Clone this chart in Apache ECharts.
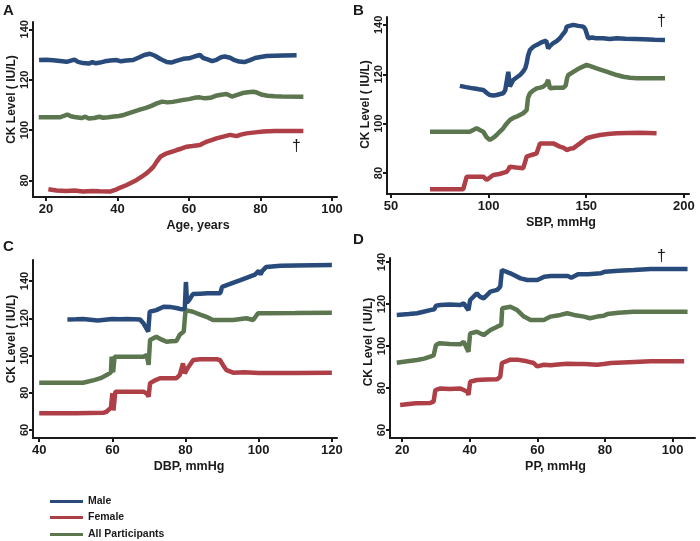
<!DOCTYPE html>
<html>
<head>
<meta charset="utf-8">
<script src="https://cdn.jsdelivr.net/npm/echarts@6/dist/echarts.min.js"></script>
<style>
  html, body { margin: 0; padding: 0; background: #fff; }
  #main { width: 700px; height: 541px; }
</style>
</head>
<body>
<div id="main"></div>
<script>
// series names, in legend order
const seriesNames = ['Male', 'Female', 'All Participants'];

// panel A: CK level by age
const ageMale = [[18.1,127.8],[20,127.9],[22,127.7],[24,127.4],[25.8,127.1],[27,127.6],[28,128.0],[29,127.1],[30.4,126.6],[32,126.4],[33,127],[34,126.5],[35.1,126.8],[36.5,127.3],[38,127.6],[39.8,127.8],[41,127.3],[42.5,127.6],[44.4,127.8],[46,128.8],[47.5,129.8],[49.1,130.3],[50.5,129.5],[52,128.2],[53.8,127.0],[55,126.8],[56.5,127.5],[58.4,128.3],[60,128.5],[61.5,129.2],[63.1,129.8],[64,128.6],[65,128.2],[66.5,127.4],[67.7,127.9],[69,128.9],[70,129.2],[71.5,128.7],[72.4,128.0],[74,127.2],[75.5,127.0],[77.1,127.8],[78.5,128.6],[80,129.0],[81.7,129.4],[84,129.5],[86.4,129.6],[90.1,129.7]];
const ageFemale = [[20.7,76.5],[23,76.0],[25.8,75.8],[28,76.0],[30.4,75.6],[33,75.8],[35,75.7],[37.9,75.6],[39.8,76.5],[41,77.3],[42.6,78.2],[44,79.2],[45.4,80.2],[46.8,81.5],[48.2,82.9],[49.2,84.2],[50.1,85.5],[51,87.5],[52,89.4],[53,90.2],[53.8,90.8],[55.2,91.4],[56.6,92.1],[58,92.7],[59.4,93.4],[61,93.7],[63.1,94.1],[64,94.8],[65,95.4],[66.3,96.0],[67.7,96.7],[69.6,97.4],[71.5,98.1],[73.3,97.6],[74.5,98.2],[76.1,98.7],[78.5,99.1],[80.8,99.4],[84,99.6],[92,99.6]];
const ageAll = [[18,105.1],[22,105.1],[24,105.1],[25,105.6],[26,106.2],[27,105.5],[28,105.2],[30,104.8],[31,105.3],[32,104.6],[33.5,104.8],[35,105.3],[36,104.9],[37.5,105.1],[39,105.4],[40.5,105.6],[42,106.1],[43.5,106.8],[45,107.5],[46.5,108.2],[48,108.8],[49.5,109.6],[51,110.6],[52.5,111.3],[54,111.0],[55.5,111.2],[57,111.6],[58.5,112.0],[60,112.3],[61.5,112.8],[63,113.0],[64.5,112.6],[66,112.8],[67.5,113.6],[69,114.0],[70.5,114.3],[72,113.3],[73.5,114.0],[75,114.7],[76.5,115.0],[78,115.2],[79,114.9],[80.5,114.0],[82,113.6],[84,113.4],[86,113.3],[92,113.2]];

// panel B: CK level by systolic blood pressure
const sbpMale = [[85.3,115.3],[88.5,114.8],[92,114.3],[95,113.9],[97.3,113.6],[99,112.5],[100.7,111.6],[102.5,111.4],[104.1,111.6],[106,112.0],[107.5,112.3],[108.5,113.5],[109.2,114.3],[110.1,121.0],[110.9,115.0],[112.6,117.7],[114.5,118.8],[116.1,119.7],[117.7,121.1],[118.8,122.5],[119.5,124.5],[120.2,127.5],[121.2,129.9],[123,131.2],[124.6,131.9],[126.5,132.7],[128,133.2],[129.5,133.6],[130.5,130.5],[131.5,131.5],[133.1,132.6],[135,133.5],[136.5,134.6],[138,136.2],[139.3,137.5],[140,139.3],[143.3,140.0],[146,139.6],[148.5,139.3],[149.5,138.3],[150.2,137.5],[151,134.6],[153,134.9],[155,134.6],[158.7,134.6],[162,134.3],[165.6,134.6],[170,134.4],[175,134.3],[179.2,134.2],[185,134.0],[190.3,133.9]];
const sbpFemale = [[70,73.4],[80,73.4],[87,73.4],[88.8,78.5],[93,78.5],[97.3,78.5],[99,77.2],[100.7,78.2],[102.4,79.2],[105.5,79.6],[109.2,80.5],[110.2,81.5],[110.9,82.6],[114,82.2],[117.7,81.9],[119.5,86.6],[122,87.3],[124.6,88.0],[126.3,92.0],[130,92.0],[133.1,92.0],[136.5,90.7],[138.5,90.2],[140,89.3],[141.5,89.8],[143.3,90.0],[145,91.0],[146.8,92.0],[148.5,93.0],[150.2,94.1],[153.5,94.8],[157,95.4],[161,95.8],[165.6,96.1],[171,96.2],[177.5,96.3],[186,96.1]];
const sbpAll = [[70,96.7],[80,96.7],[90.4,96.7],[93.9,98.1],[96,97.2],[97.3,96.7],[99,94.5],[100.7,93.4],[102.5,94.3],[104.1,95.4],[105.8,96.8],[107.5,98.1],[109,99.8],[110.9,101.5],[112.6,102.3],[114.3,102.8],[116,103.5],[117.7,104.2],[119.5,105.5],[120.2,110.5],[121.2,112.3],[123,113.5],[124.6,114.3],[126.5,114.6],[128,115.0],[129.5,116.0],[130.5,117.7],[131.4,114.3],[134,114.5],[136.5,114.5],[138.2,114.5],[139.5,115.5],[140.2,118.5],[140.8,119.7],[143,120.8],[145.1,121.8],[147.5,122.8],[150.2,123.8],[152.5,123.2],[155.3,122.4],[158,121.7],[160.4,121.1],[163,120.4],[165.6,119.7],[169,119.0],[172.4,118.6],[176,118.4],[179.2,118.4],[185,118.4],[190.3,118.4]];

// panel C: CK level by diastolic blood pressure
const dbpMale = [[47.7,119.4],[50,119.5],[52,119.6],[54,119.2],[56,118.8],[58,119.2],[60,119.6],[62,119.5],[64,119.6],[66,119.5],[67.5,119.4],[68.5,117.3],[69.8,112.8],[70.2,123.5],[72,124.4],[74,126.2],[76,126.0],[77.5,125.5],[79,124.8],[79.8,125.3],[80.1,139.5],[80.4,128.5],[81,129.8],[82,133.0],[84,133.2],[86,133.4],[88,133.5],[89.5,133.5],[90,136.9],[92,138.3],[95,140.5],[97,142.0],[99,143.5],[100,145.5],[100.5,143.5],[101,145.5],[102,147.5],[106,148.2],[110,148.4],[115,148.5],[120,148.6]];
const dbpFemale = [[40,69.0],[50,69.0],[57.5,69.2],[58.4,69.8],[59.6,72.0],[60.0,79.7],[60.3,70.5],[60.8,80.6],[64,80.6],[68.5,80.6],[69.4,79.5],[69.9,77.9],[70.3,85.1],[71.5,86.5],[73,87.8],[77.5,87.8],[78.4,89.5],[79.3,95.8],[79.8,90.4],[80.5,93.0],[82.1,97.6],[84,98.0],[86,98.0],[88.5,98.0],[89.4,97.6],[90.5,94.0],[91.2,92.2],[93,90.8],[96,91.0],[100,90.6],[110,90.6],[120,90.8]];
const dbpAll = [[40,85.4],[46,85.4],[52,85.4],[55,86.8],[57,88.0],[58.4,89.5],[59.6,91],[59.8,99.4],[60.2,91.0],[60.6,99.4],[64,99.4],[68.5,99.4],[69.4,100.3],[69.9,95.0],[70.3,108.3],[72,110.1],[73.5,108.5],[74.8,107.4],[76,107.6],[77.5,107.8],[78.4,111.1],[79.5,112.9],[80,124.4],[82,123.5],[84,122.0],[85.7,120.8],[87.5,119.1],[90,119.1],[93,119.1],[96.6,120.0],[98.5,119.1],[99.8,122.7],[102,122.7],[110,122.8],[120,123.0]];

// panel D: CK level by pulse pressure
const ppMale = [[18.4,114.8],[22,115.2],[24.4,115.6],[26.3,116.3],[28.3,117.1],[29.5,117.5],[30,119.2],[31.3,119.5],[34,119.8],[37.2,119.5],[38.2,120.3],[39.6,117.1],[40.1,121.9],[42.1,125.1],[43,123.5],[44.1,122.7],[46.1,125.9],[48.1,126.7],[49,128.2],[49.5,136.2],[52,134.6],[55,132.2],[57,131.4],[60,131.4],[62,133.0],[64,133.3],[69,133.3],[70,132.5],[72,134.2],[75,134.2],[78.7,134.6],[80,135.4],[84,135.8],[88.5,136.2],[93.5,136.7],[104.4,136.7]];
const ppFemale = [[19.4,71.9],[24,72.7],[28.3,72.9],[29.3,73.5],[29.8,79.0],[31.3,79.8],[34,79.5],[37.2,79.8],[39.2,78.3],[39.6,76.7],[40.1,83.0],[42.1,83.8],[45,84.0],[48.1,84.2],[49,85.4],[49.5,91.9],[52,93.5],[54,93.5],[56.9,92.7],[58.9,91.9],[59.9,90.3],[61.9,91.1],[63.9,90.8],[66,91.2],[68.8,91.6],[71.8,91.4],[73.8,91.4],[77.7,91.1],[79.6,91.4],[81.7,91.9],[87,92.3],[93.5,92.7],[103.4,92.7]];
const ppAll = [[18.4,92.0],[21,92.6],[24.4,93.3],[26.5,94.0],[28.3,94.9],[29.3,95.5],[30,100.5],[31,101.3],[34,101.0],[37.2,100.8],[38.2,102.0],[39.6,97.3],[40.1,106.0],[42.1,106.8],[44.1,105.2],[46.1,107.6],[48.1,109.2],[49.3,110.0],[49.6,118.0],[52,118.7],[54,117.1],[56,114.0],[58,112.4],[61.9,112.4],[63.9,114.0],[66.8,114.8],[68.8,115.6],[70.8,114.8],[73.8,114.0],[75.5,113.2],[77.7,114.0],[79.6,114.4],[80.7,115.2],[84,115.8],[88.5,116.3],[95,116.3],[104.4,116.3]];

// tick labels
const ageTicks = [20, 40, 60, 80, 100];
const sbpTicks = [50, 100, 150, 200];
const dbpTicks = [40, 60, 80, 100, 120];
const ppTicks = [20, 40, 60, 80, 100];
const ckTicksAB = [80, 100, 120, 140];
const ckTicksCD = [60, 80, 100, 120, 140];

const BLUE = '#294b7b';
const RED = '#ae3f47';
const GREEN = '#5c7650';
const INK = '#1a1a1a';

let makeX = (idx, min, max, ticks, name, shift) => ({
  type: 'value', gridIndex: idx, min: min, max: max,
  name: name, nameLocation: 'middle', nameGap: 22,
  nameTextStyle: {
    fontSize: 12.5, fontWeight: 'bold', color: INK, fontFamily: 'Liberation Sans',
    padding: shift >= 0 ? [0, 0, 0, shift * 2] : [0, -shift * 2, 0, 0]
  },
  splitLine: { show: false },
  axisLine: { onZero: false, lineStyle: { color: INK, width: 2 } },
  axisTick: { customValues: ticks, length: 4, lineStyle: { color: INK, width: 2 } },
  axisLabel: { customValues: ticks, fontSize: 13, fontWeight: 'bold', color: INK, fontFamily: 'Liberation Sans', margin: 6 }
});

let makeY = (idx, min, max, ticks, shift) => ({
  type: 'value', gridIndex: idx, min: min, max: max,
  name: 'CK Level ( IU/L)', nameLocation: 'middle', nameGap: 14,
  nameTextStyle: {
    fontSize: 12, fontWeight: 'bold', color: INK, fontFamily: 'Liberation Sans',
    padding: shift >= 0 ? [0, 0, 0, shift * 2] : [0, -shift * 2, 0, 0]
  },
  splitLine: { show: false },
  axisLine: { onZero: false, lineStyle: { color: INK, width: 2 } },
  axisTick: { customValues: ticks, length: 4, lineStyle: { color: INK, width: 2 } },
  axisLabel: { customValues: ticks, rotate: 90, fontSize: 11, fontWeight: 'bold', color: INK, fontFamily: 'Liberation Sans', margin: 3 }
});

let makeLine = (idx, name, color, data) => ({
  type: 'line', name: name, xAxisIndex: idx, yAxisIndex: idx,
  data: data, showSymbol: false, symbol: 'none',
  itemStyle: { color: color },
  lineStyle: { color: color, width: 4.5, join: 'bevel' },
  z: 3
});

// one legend per entry so they stack like the original key
let makeLegend = (name, top) => ({
  data: [name], orient: 'vertical', left: 45, top: top,
  itemWidth: 33, itemHeight: 3, icon: 'rect',
  textStyle: { fontSize: 10.5, fontWeight: 'bold', color: INK, fontFamily: 'Liberation Sans' }
});

let panelText = (txt, x, y, size, weight) => ({
  type: 'text', left: x, top: y,
  style: { text: txt, fontSize: size, fontWeight: weight, fill: INK, fontFamily: 'Liberation Sans' }
});

const chart = echarts.init(document.getElementById('main'));

const options = {
  animation: false,
  backgroundColor: '#fff',
  textStyle: { fontFamily: 'Liberation Sans' },
  grid: [
    { left: 33, top: 22, width: 304, height: 175 },
    { left: 387, top: 17, width: 302, height: 177 },
    { left: 33, top: 260, width: 304, height: 178 },
    { left: 390, top: 258, width: 305, height: 180 }
  ],
  xAxis: [
    makeX(0, 16.4, 101.4, ageTicks, 'Age, years', 13),
    makeX(1, 48, 202.6, sbpTicks, 'SBP, mmHg', 23),
    makeX(2, 38.3, 121.4, dbpTicks, 'DBP, mmHg', 4),
    makeX(3, 16.4, 106.6, ppTicks, 'PP, mmHg', 13)
  ],
  yAxis: [
    makeY(0, 73.45, 142.9, ckTicksAB, 10),
    makeY(1, 71.5, 143.2, ckTicksAB, 1),
    makeY(2, 55.7, 151.3, ckTicksCD, 10),
    makeY(3, 56.2, 141.9, ckTicksCD, 6)
  ],
  legend: [
    makeLegend(seriesNames[0], 491),
    makeLegend(seriesNames[1], 507),
    makeLegend(seriesNames[2], 524)
  ],
  series: [
    makeLine(0, 'All Participants', GREEN, ageAll),
    makeLine(0, 'Female', RED, ageFemale),
    makeLine(0, 'Male', BLUE, ageMale),
    makeLine(1, 'All Participants', GREEN, sbpAll),
    makeLine(1, 'Female', RED, sbpFemale),
    makeLine(1, 'Male', BLUE, sbpMale),
    makeLine(2, 'All Participants', GREEN, dbpAll),
    makeLine(2, 'Female', RED, dbpFemale),
    makeLine(2, 'Male', BLUE, dbpMale),
    makeLine(3, 'All Participants', GREEN, ppAll),
    makeLine(3, 'Female', RED, ppFemale),
    makeLine(3, 'Male', BLUE, ppMale)
  ],
  graphic: [
    panelText('A', 3, 3, 15, 'bold'),
    panelText('B', 353, 3, 15, 'bold'),
    panelText('C', 3, 239, 15, 'bold'),
    panelText('D', 353, 232, 15, 'bold'),
    panelText('\u2020', 292, 139, 16, 'normal'),
    panelText('\u2020', 657, 14, 16, 'normal'),
    panelText('\u2020', 657, 249, 16, 'normal')
  ]
};

chart.setOption(options);
</script>
</body>
</html>
